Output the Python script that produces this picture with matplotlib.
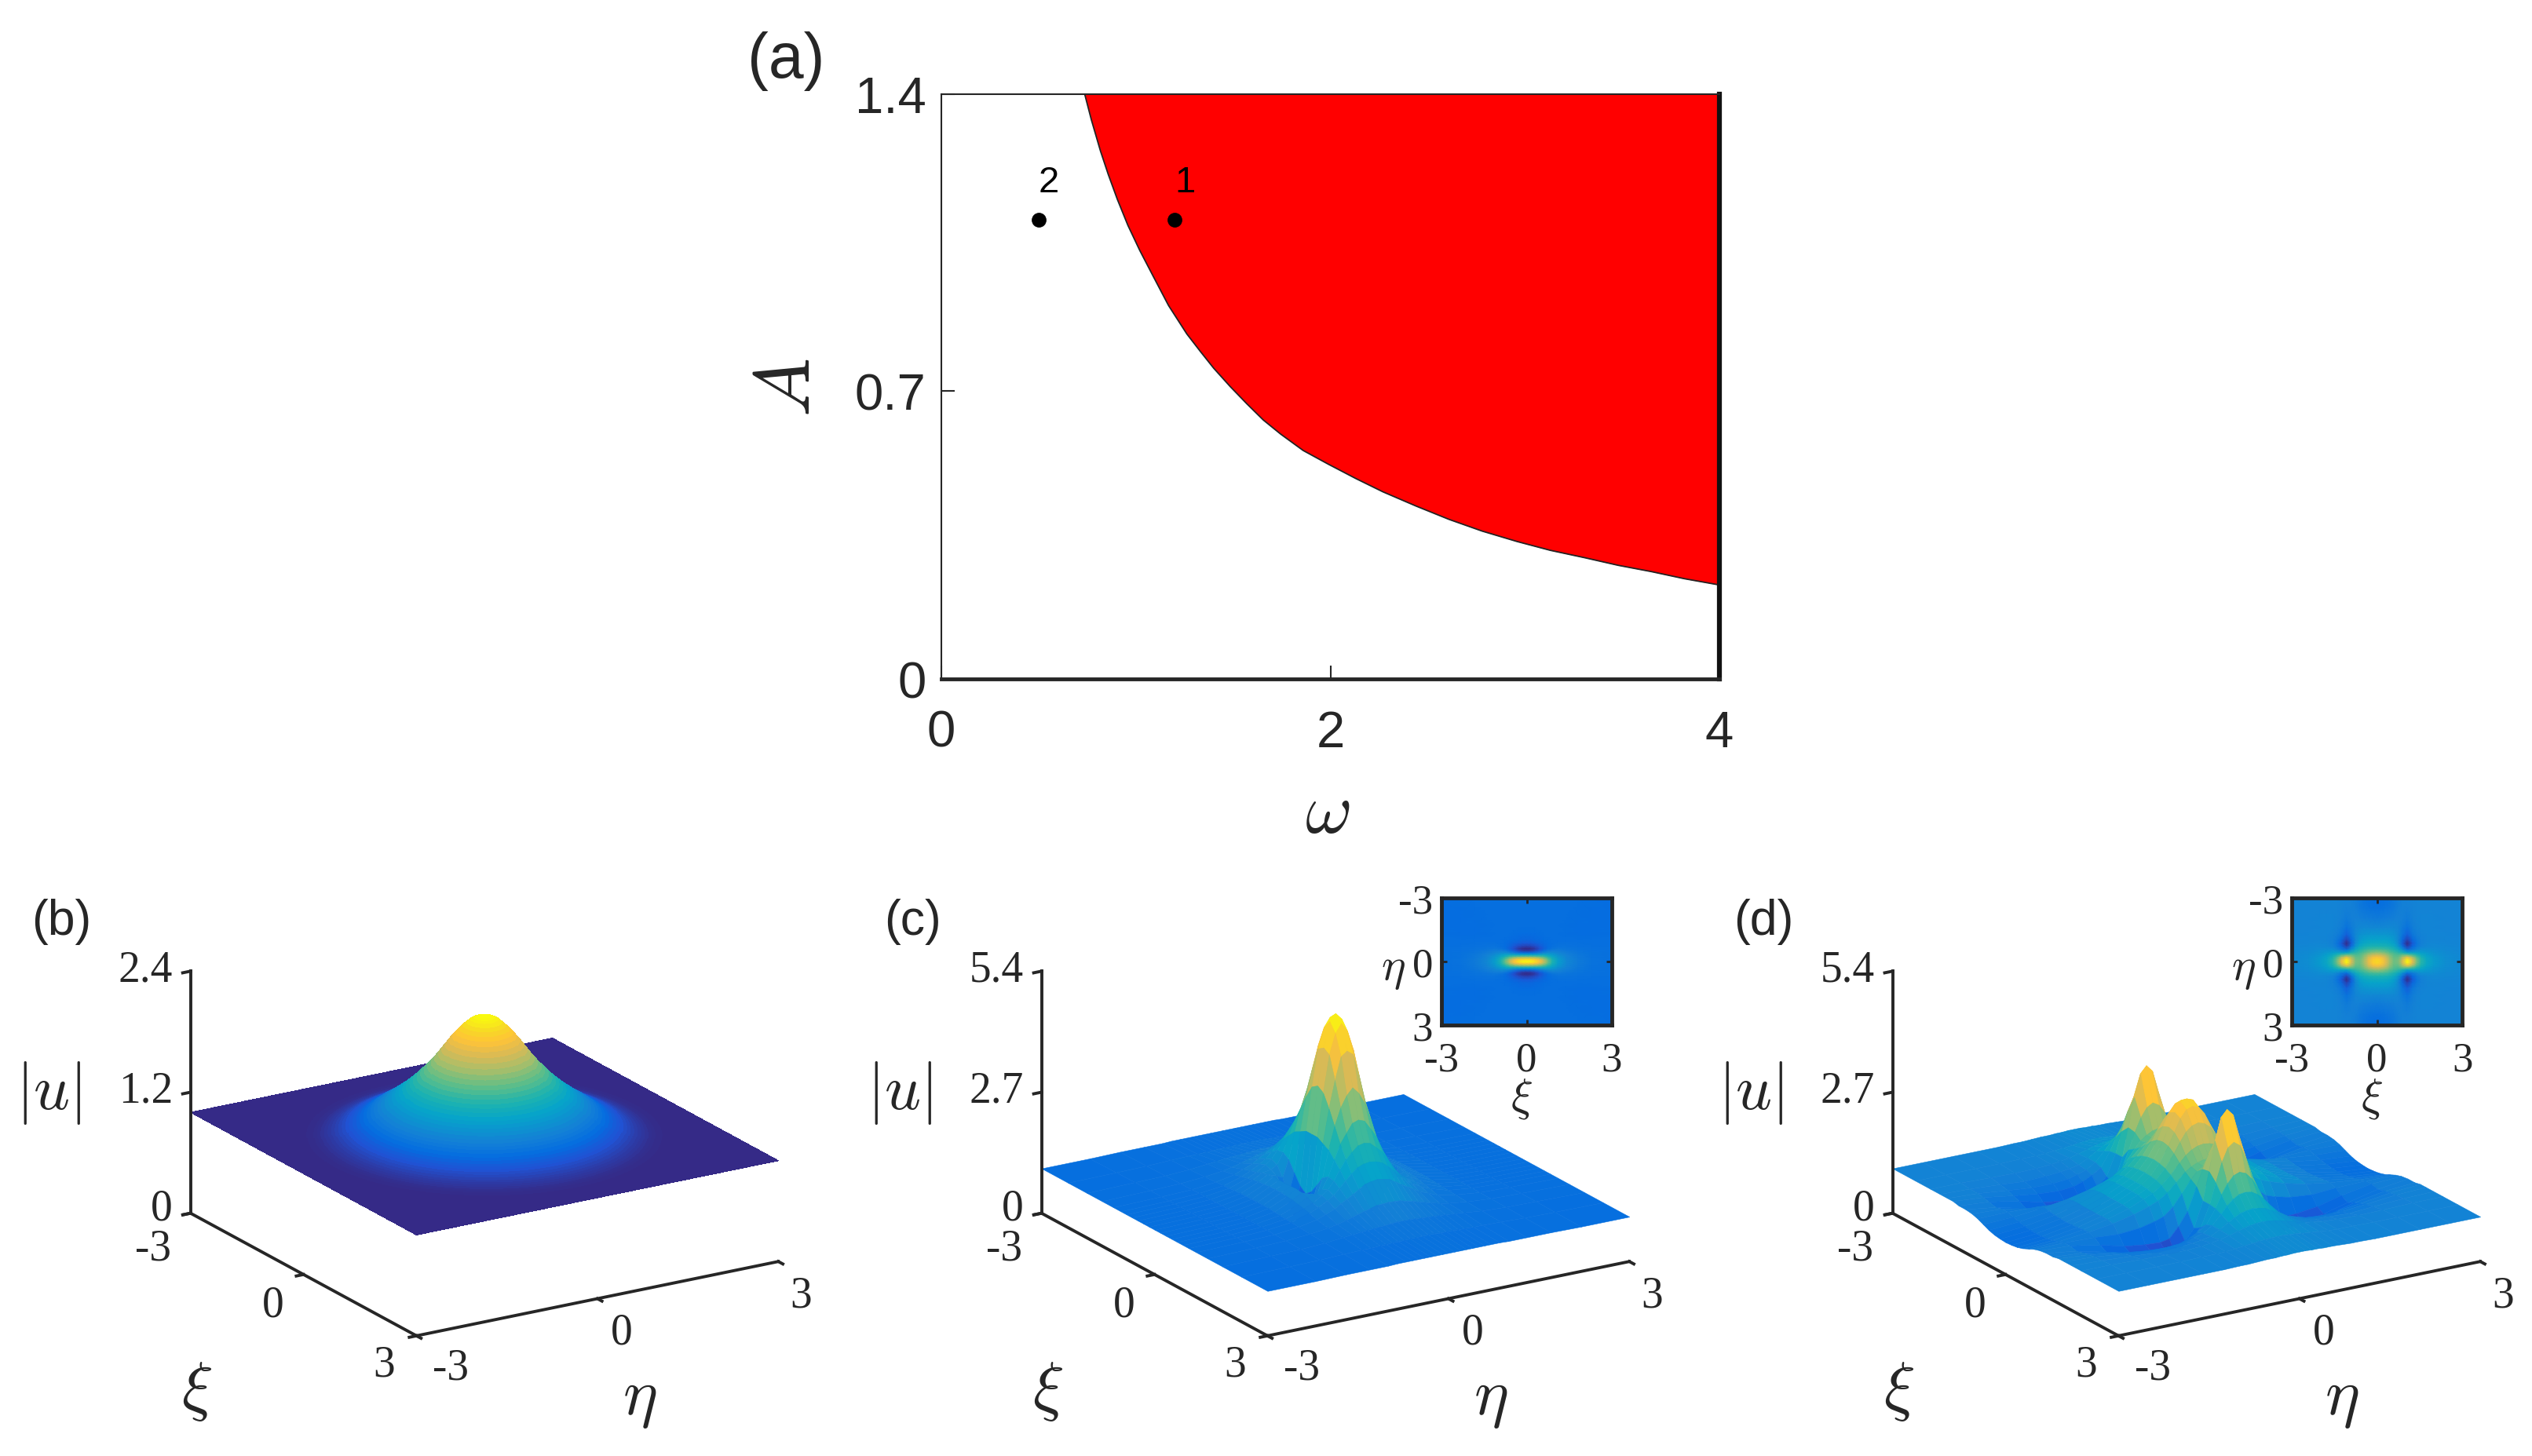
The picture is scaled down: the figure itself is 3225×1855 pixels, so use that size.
import numpy as np
import matplotlib
matplotlib.use('Agg')
from matplotlib import pyplot as plt
from matplotlib.colors import LinearSegmentedColormap, Normalize
from mpl_toolkits.mplot3d import proj3d
from mpl_toolkits.mplot3d.art3d import Poly3DCollection

# stability boundary of panel (a)
omega_edge = [0.737, 0.771, 0.818, 0.858, 0.905, 0.959, 1.02, 1.087, 1.168, 1.262, 1.33, 1.40, 1.485, 1.57, 1.655, 1.745,
              1.86, 1.99, 2.13, 2.27, 2.44, 2.61, 2.78, 2.96, 3.13, 3.31, 3.48, 3.65, 3.82, 4.0]
A_edge = [1.40, 1.339, 1.264, 1.208, 1.148, 1.086, 1.026, 0.966, 0.894, 0.826, 0.785, 0.744, 0.70, 0.659, 0.62,
          0.586, 0.547, 0.514, 0.48, 0.448, 0.414, 0.382, 0.354, 0.329, 0.308, 0.29, 0.272, 0.257, 0.24, 0.225]
omega_pts = [1.2, 0.5]
A_pts = [1.1, 1.1]
pt_names = ['1', '2']

# panel (b) is round, so one profile |u|(r)
b_r = [0, .05, .1, .15, .2, .25, .3, .35, .4, .45, .5, .55, .6, .65, .7, .75, .8, .85, .9, .95, 1, 1.05, 1.1, 1.15,
       1.2, 1.25, 1.3, 1.35, 1.4, 1.45, 1.5, 1.55, 1.6, 1.65, 1.7, 1.75, 1.8, 1.85, 1.9, 1.95, 2, 2.05, 2.1, 2.15,
       2.2, 2.25, 2.3, 2.35, 2.4, 2.5, 2.6]
b_u = [2.20, 2.197, 2.19, 2.177, 2.16, 2.13, 2.10, 2.065, 2.03, 1.99, 1.95, 1.905, 1.86, 1.815, 1.77, 1.73, 1.69,
       1.655, 1.62, 1.585, 1.55, 1.52, 1.49, 1.46, 1.43, 1.405, 1.38, 1.355, 1.33, 1.305, 1.28, 1.26, 1.24, 1.215,
       1.19, 1.17, 1.15, 1.135, 1.12, 1.105, 1.09, 1.075, 1.06, 1.05, 1.04, 1.03, 1.02, 1.015, 1.01, 1.003, 1.00]
b_floor = 1.0

# panels (c) and (d): one quadrant, rows are xi, columns are eta
c_xi = [0, .15, .3, .45, .6, .75, .9, 1.1, 1.4, 1.8, 2.3, 3]
c_eta = [0, .1, .2, .3, .4, .5, .6, .7, .85, 1, 1.3, 1.7, 2.2, 3]
# the top view (inset) of (c)
c_top_u = [
    [5.00, 4.50, 3.30, 2.10, 1.00, .35, .18, .42, .72, .86, .96, 1.00, 1.00, 1.00],
    [4.95, 4.45, 3.28, 2.10, 1.02, .40, .22, .45, .74, .87, .96, 1.00, 1.00, 1.00],
    [4.70, 4.25, 3.20, 2.10, 1.12, .55, .38, .55, .79, .90, .97, 1.00, 1.00, 1.00],
    [4.30, 3.95, 3.05, 2.12, 1.28, .78, .60, .70, .85, .93, .98, 1.00, 1.00, 1.00],
    [3.70, 3.42, 2.80, 2.12, 1.45, 1.02, .82, .85, .91, .96, .99, 1.00, 1.00, 1.00],
    [3.00, 2.85, 2.45, 2.00, 1.55, 1.20, 1.00, .96, .96, .98, .99, 1.00, 1.00, 1.00],
    [2.40, 2.32, 2.10, 1.82, 1.55, 1.28, 1.10, 1.02, .99, .99, .99, 1.00, 1.00, 1.00],
    [1.85, 1.82, 1.72, 1.58, 1.42, 1.28, 1.15, 1.07, 1.01, 1.00, .99, .99, 1.00, 1.00],
    [1.45, 1.44, 1.40, 1.34, 1.26, 1.18, 1.12, 1.07, 1.02, 1.00, .98, .98, .99, 1.00],
    [1.20, 1.20, 1.18, 1.16, 1.13, 1.10, 1.07, 1.04, 1.01, .99, .97, .97, .98, .99],
    [1.07, 1.07, 1.06, 1.06, 1.05, 1.04, 1.03, 1.02, 1.00, .99, .97, .97, .97, .98],
    [1.02, 1.02, 1.02, 1.02, 1.01, 1.01, 1.01, 1.00, 1.00, .99, .98, .97, .97, .97],
]
# the 3D sheet of (c), read from its silhouette
c_u = [
    [5.00, 4.85, 4.29, 3.47, 2.42, 1.12, .43, .88, 1.45, 1.35, 1.15, 1.05, 1.02, 1.00],
    [4.85, 4.65, 4.20, 3.38, 2.42, 1.23, .59, .96, 1.45, 1.35, 1.15, 1.05, 1.02, 1.00],
    [4.30, 4.20, 3.70, 3.10, 2.34, 1.45, .96, 1.18, 1.46, 1.33, 1.15, 1.05, 1.02, 1.00],
    [3.55, 3.40, 3.15, 2.77, 2.27, 1.68, 1.30, 1.37, 1.44, 1.32, 1.14, 1.05, 1.02, 1.00],
    [2.90, 2.85, 2.65, 2.44, 2.12, 1.77, 1.52, 1.44, 1.41, 1.29, 1.13, 1.05, 1.02, 1.00],
    [2.45, 2.42, 2.30, 2.17, 1.97, 1.75, 1.58, 1.48, 1.35, 1.26, 1.12, 1.05, 1.02, 1.00],
    [2.10, 2.08, 2.03, 1.92, 1.79, 1.65, 1.52, 1.43, 1.32, 1.23, 1.11, 1.05, 1.02, 1.00],
    [1.80, 1.78, 1.75, 1.67, 1.58, 1.50, 1.43, 1.34, 1.26, 1.18, 1.10, 1.04, 1.02, 1.00],
    [1.43, 1.42, 1.41, 1.37, 1.34, 1.30, 1.26, 1.22, 1.17, 1.13, 1.08, 1.04, 1.02, 1.00],
    [1.20, 1.20, 1.19, 1.18, 1.17, 1.16, 1.15, 1.14, 1.12, 1.10, 1.06, 1.03, 1.02, 1.00],
    [1.08, 1.08, 1.08, 1.07, 1.07, 1.07, 1.06, 1.06, 1.05, 1.05, 1.04, 1.02, 1.01, 1.00],
    [1.02, 1.02, 1.02, 1.02, 1.02, 1.02, 1.02, 1.02, 1.02, 1.01, 1.01, 1.01, 1.00, 1.00],
]
c_limits = (0.18, 5.0)

d_xi = [0, .15, .3, .45, .6, .75, .9, 1.07, 1.25, 1.4, 1.55, 1.75, 2, 2.4, 3]
d_eta = [0, .1, .2, .3, .4, .55, .7, .85, 1, 1.25, 1.6, 2, 2.5, 3]
# the top view (inset) of (d)
d_top_u = [
    [3.10, 3.05, 2.85, 2.55, 2.25, 1.90, 1.65, 1.48, 1.38, 1.22, 1.05, .90, .78, .72],
    [3.00, 2.95, 2.78, 2.50, 2.22, 1.88, 1.64, 1.48, 1.38, 1.22, 1.05, .91, .79, .73],
    [2.70, 2.66, 2.55, 2.35, 2.12, 1.84, 1.62, 1.47, 1.37, 1.22, 1.06, .92, .81, .75],
    [2.30, 2.28, 2.22, 2.12, 1.98, 1.76, 1.57, 1.43, 1.34, 1.20, 1.06, .94, .84, .79],
    [2.05, 2.04, 2.00, 1.94, 1.85, 1.66, 1.47, 1.33, 1.25, 1.16, 1.05, .96, .88, .85],
    [2.10, 2.07, 2.00, 1.90, 1.75, 1.48, 1.22, 1.08, 1.05, 1.04, 1.01, .97, .93, .91],
    [2.60, 2.52, 2.32, 2.02, 1.66, 1.15, .80, .62, .68, .82, .90, .95, .96, .95],
    [3.35, 3.20, 2.70, 2.05, 1.42, .78, .40, .22, .38, .62, .80, .90, .95, .97],
    [2.70, 2.60, 2.30, 1.88, 1.42, .90, .70, .58, .68, .84, .92, .96, .98, .99],
    [2.10, 2.05, 1.90, 1.68, 1.40, 1.05, .88, .83, .86, .94, .98, 1.00, 1.00, 1.00],
    [1.72, 1.70, 1.62, 1.50, 1.34, 1.13, 1.00, .96, .96, .98, 1.01, 1.01, 1.00, 1.00],
    [1.45, 1.43, 1.40, 1.33, 1.25, 1.13, 1.05, 1.02, 1.01, 1.01, 1.01, 1.01, 1.00, 1.00],
    [1.27, 1.26, 1.24, 1.21, 1.17, 1.11, 1.06, 1.03, 1.02, 1.01, 1.01, 1.01, 1.00, 1.00],
    [1.12, 1.12, 1.11, 1.10, 1.08, 1.06, 1.04, 1.02, 1.01, 1.01, 1.00, 1.00, 1.00, 1.00],
    [1.05, 1.05, 1.04, 1.04, 1.03, 1.03, 1.02, 1.01, 1.01, 1.00, 1.00, 1.00, 1.00, 1.00],
]
# the 3D sheet of (d), valleys are wider there
d_u = [
    [3.10, 3.05, 2.85, 2.55, 2.25, 1.90, 1.65, 1.48, 1.38, 1.22, 1.05, .90, .78, .72],
    [3.00, 2.95, 2.78, 2.50, 2.22, 1.88, 1.64, 1.48, 1.38, 1.22, 1.05, .91, .79, .73],
    [2.70, 2.66, 2.55, 2.35, 2.12, 1.84, 1.62, 1.47, 1.37, 1.22, 1.06, .92, .81, .75],
    [2.30, 2.28, 2.22, 2.12, 1.98, 1.76, 1.57, 1.43, 1.34, 1.20, 1.06, .94, .84, .79],
    [2.05, 2.04, 2.00, 1.94, 1.85, 1.66, 1.47, 1.33, 1.25, 1.14, 1.03, .95, .88, .85],
    [2.10, 2.07, 2.00, 1.90, 1.75, 1.48, 1.22, 1.05, .98, .90, .86, .90, .92, .91],
    [2.60, 2.52, 2.32, 2.02, 1.66, 1.15, .85, .62, .58, .60, .66, .80, .92, .95],
    [3.35, 3.20, 2.70, 2.05, 1.42, .85, .60, .30, .42, .50, .58, .72, .88, .97],
    [2.70, 2.60, 2.30, 1.88, 1.42, .95, .75, .62, .58, .60, .66, .80, .92, .97],
    [2.10, 2.05, 1.90, 1.68, 1.40, 1.08, .95, .85, .78, .75, .78, .85, .95, 1.00],
    [1.72, 1.70, 1.62, 1.50, 1.34, 1.13, 1.00, .94, .88, .85, .85, .90, .97, 1.00],
    [1.45, 1.43, 1.40, 1.33, 1.25, 1.13, 1.02, .98, .95, .92, .90, .94, .98, 1.00],
    [1.27, 1.26, 1.24, 1.21, 1.17, 1.11, 1.06, 1.03, 1.00, .98, .97, .98, 1.00, 1.00],
    [1.12, 1.12, 1.11, 1.10, 1.08, 1.06, 1.04, 1.02, 1.01, 1.01, 1.00, 1.00, 1.00, 1.00],
    [1.05, 1.05, 1.04, 1.04, 1.03, 1.03, 1.02, 1.01, 1.01, 1.00, 1.00, 1.00, 1.00, 1.00],
]
d_limits = (0.22, 3.35)

# parula, sampled
parula_pos = [0, 6, 10, 15, 23, 29, 35, 41, 48, 54, 58, 63]
parula_rgb = [(.2081, .1663, .5292), (.1253, .3242, .8303), (.0165, .4266, .8786), (.0779, .5040, .8384),
              (.0231, .6418, .7913), (.1133, .7015, .6859), (.3482, .7424, .5473), (.6099, .7473, .4337),
              (.8507, .7299, .3360), (.9990, .7653, .2164), (.9697, .8481, .1475), (.9763, .9831, .0538)]
parula = LinearSegmentedColormap.from_list('parula', [(p / 63, c) for p, c in zip(parula_pos, parula_rgb)])

W, H = 3225, 1856
K = W / 1568  # I measured everything on a 1568 wide view of the picture
INK = '#262626'
SANS = 'Liberation Sans'
SERIF = 'Liberation Serif'

plt.rcParams['mathtext.fontset'] = 'cm'
fig = plt.figure(figsize=(W / 100, H / 100), dpi=100, facecolor='white')


def fig_text(x, y, s, **kw):
    fig.text(x * K / W, 1 - y * K / H, s, ha='center', va='center', color=INK, **kw)


def mirror_full(xi, eta, table):
    xi = np.array(xi, dtype=float)
    eta = np.array(eta, dtype=float)
    table = np.array(table, dtype=float)
    top = np.vstack([table[:0:-1], table])
    return np.concatenate([-xi[:0:-1], xi]), np.concatenate([-eta[:0:-1], eta]), np.hstack([top[:, :0:-1], top])


def corner_px(ax, x, y, z):
    xs, ys, _ = proj3d.proj_transform(x, y, z, ax.get_proj())
    return ax.transData.transform((xs, ys))


def new_box(left, span, origin_y, zmax):
    # 3D box with the picture's view, moved so its corners land on the measured spot
    ax = fig.add_axes([0.1, 0.1, 1000 / W, 1000 / H], projection='3d')
    ax.set_proj_type('ortho')
    ax.view_init(elev=19.5, azim=-121.6)
    ax.set_box_aspect((263, 267, 159))
    ax.set_xlim(-3, 3, view_margin=0)
    ax.set_ylim(3, -3, view_margin=0)
    ax.set_zlim(0, zmax, view_margin=0)
    ax.set_axis_off()
    ax.patch.set_visible(False)
    ax.computed_zorder = False
    a = corner_px(ax, -3, -3, 0)
    b = corner_px(ax, 3, 3, 0)
    size = 1000 * span * K / (b[0] - a[0])
    fx = (a[0] - 0.1 * W) / 1000
    fy = (a[1] - 0.1 * H) / 1000
    x0 = left * K - fx * size
    y0 = H - origin_y * K - fy * size
    ax.set_position([x0 / W, y0 / H, size / W, size / H])
    return ax


def draw_sheet(ax, xi, eta, u, limits):
    # painter's order by hand: far row first, mplot3d's own sort breaks on the tall thin peak
    norm = Normalize(*limits)
    order = 1
    for i in range(len(xi) - 1):
        for j in range(len(eta) - 2, -1, -1):
            verts = [(eta[j], xi[i], u[i, j]), (eta[j + 1], xi[i], u[i, j + 1]),
                     (eta[j + 1], xi[i + 1], u[i + 1, j + 1]), (eta[j], xi[i + 1], u[i + 1, j])]
            col = parula(norm(u[i:i + 2, j:j + 2].mean()))
            ax.add_collection3d(Poly3DCollection([verts], facecolors=col, edgecolors=col, linewidths=0.4,
                                                 zorder=order), autolim=False)
            order += 1


def dress_box(ax, zticks, letter, dx):
    lw = 2.8
    top = 100000
    ax.plot([-3, -3], [-3, -3], [0, zticks[-1]], color=INK, lw=lw, zorder=top)
    ax.plot([-3, -3], [-3, 3], [0, 0], color=INK, lw=lw, zorder=top)
    ax.plot([-3, 3], [3, 3], [0, 0], color=INK, lw=lw, zorder=top)
    for z in zticks:
        ax.plot([-3, -3.13], [-3, -3], [z, z], color=INK, lw=lw, zorder=top)
        p = corner_px(ax, -3, -3, z)
        fig.text(p[0] / W - 11 * K / W, p[1] / H + (3 if z == 0 else 1) * K / H, '%g' % z, ha='right', va='center',
                 family=SERIF, size=40, color=INK)
    for t, off in zip([-3, 0, 3], [(-23, 22), (-19, 19), (-20, 18)]):
        ax.plot([-3, -3.12], [t, t], [0, 0], color=INK, lw=lw, zorder=top)
        p = corner_px(ax, -3, t, 0)
        fig.text((p[0] + off[0] * K) / W, (p[1] - off[1] * K) / H, '%d' % t, ha='center', va='center',
                 family=SERIF, size=40, color=INK)
    for t, off in zip([-3, 0, 3], [(21, 20), (15, 21), (14, 21)]):
        ax.plot([t, t], [3, 3.12], [0, 0], color=INK, lw=lw, zorder=top)
        p = corner_px(ax, t, 3, 0)
        fig.text((p[0] + off[0] * K) / W, (p[1] - off[1] * K) / H, '%d' % t, ha='center', va='center',
                 family=SERIF, size=40, color=INK)
    fig_text(38 + dx, 571, letter, family=SANS, size=45)
    fig_text(30 + dx, 677, r'$|u|$', size=58)
    fig_text(122 + dx, 862, r'$\xi$', size=60)
    fig_text(396 + dx, 866, r'$\eta$', size=60)


def inset(x0, xi, eta, table, limits):
    ax = fig.add_axes([x0 / W, 1 - 1307 / H, 217 / W, 162 / H], zorder=10)
    ax.pcolormesh(xi, eta, table.T, cmap=parula, vmin=limits[0], vmax=limits[1], shading='gouraud')
    ax.set_xlim(-3, 3)
    ax.set_ylim(3, -3)
    ax.set_xticks([-3, 0, 3])
    ax.set_xticklabels(['-3', '0', '3'])
    ax.set_yticks([-3, 0, 3])
    ax.set_yticklabels(['-3', '0', '3'])
    ax.tick_params(direction='in', length=5, width=2, top=True, right=True, color=INK, labelcolor=INK, labelsize=38)
    ax.tick_params(axis='x', pad=15)
    ax.tick_params(axis='y', pad=8)
    for lab in ax.get_xticklabels() + ax.get_yticklabels():
        lab.set_family(SERIF)
    for s in ax.spines.values():
        s.set_linewidth(3.5)
        s.set_color(INK)
    ax.text(-62 / 217, 0.45, r'$\eta$', transform=ax.transAxes, ha='center', va='center', size=42, color=INK)
    ax.text(0.47, -93 / 162, r'$\xi$', transform=ax.transAxes, ha='center', va='center', size=42, color=INK)


# panel (a)
ax_a = fig.add_axes([1199 / W, 1 - 866 / H, 991 / W, 745 / H])
ax_a.fill_between(omega_edge, A_edge, 1.4, color='#ff0000', lw=0)
ax_a.plot(omega_edge, A_edge, color='#222222', lw=1.3)
ax_a.plot(omega_pts, A_pts, 'o', color='black', ms=12.5)
for w, a, name in zip(omega_pts, A_pts, pt_names):
    ax_a.annotate(name, (w, a), xytext=(9.5, 34), textcoords='offset points', ha='center', va='center',
                  family=SANS, size=34, color='black')
ax_a.set_xlim(0, 4)
ax_a.set_ylim(0, 1.4)
ax_a.set_xticks([0, 2, 4])
ax_a.set_yticks([0, 0.69, 1.4])  # the middle tick sits a little low in the picture
ax_a.set_yticklabels(['0', '0.7', '1.4'])
ax_a.tick_params(direction='in', length=12, width=1.5, color=INK, labelcolor=INK, labelsize=47)
ax_a.tick_params(axis='x', pad=28)
ax_a.tick_params(axis='y', pad=14)
for lab in ax_a.get_xticklabels() + ax_a.get_yticklabels():
    lab.set_family(SANS)
ax_a.spines['left'].set_linewidth(1.5)
ax_a.spines['top'].set_linewidth(1.5)
ax_a.spines['bottom'].set_linewidth(3.5)
ax_a.spines['right'].set_linewidth(4.5)
for s in ['left', 'top', 'bottom']:
    ax_a.spines[s].set_color(INK)
ax_a.spines['right'].set_color('#111111')
fig_text(487, 38, '(a)', family=SANS, size=58)
fig_text(822, 503, r'$\omega$', size=66)
fig_text(488, 240, r'$A$', size=72, rotation=90)

# panel (b): flat sheet, then the round bump on top of it
ax_b = new_box(118, 364, 752, 2.4)
sheet_x = np.array([[-3, 3], [-3, 3]], dtype=float)
sheet_y = np.array([[-3, -3], [3, 3]], dtype=float)
ax_b.plot_surface(sheet_x, sheet_y, np.full((2, 2), b_floor), color=parula(0.0), shade=False, linewidth=0,
                  antialiased=False, zorder=1)
theta = np.linspace(0, 2 * np.pi, 181)
ring, ang = np.meshgrid(np.array(b_r), theta)
ax_b.plot_surface(ring * np.cos(ang), ring * np.sin(ang), np.tile(b_u, (len(theta), 1)), cmap=parula,
                  vmin=b_floor, vmax=max(b_u), rstride=1, cstride=1, linewidth=0, antialiased=False, zorder=2)
dress_box(ax_b, [0, 1.2, 2.4], '(b)', 0)

# panel (c)
ax_c = new_box(645, 364, 752, 5.4)
xi_c, eta_c, u_c = mirror_full(c_xi, c_eta, c_u)
draw_sheet(ax_c, xi_c, eta_c, u_c, c_limits)
dress_box(ax_c, [0, 2.7, 5.4], '(c)', 527)
xi_top, eta_top, u_top = mirror_full(c_xi, c_eta, c_top_u)
inset(1836, xi_top, eta_top, u_top, c_limits)

# panel (d)
ax_d = new_box(1172, 364, 752, 5.4)
xi_d, eta_d, u_d = mirror_full(d_xi, d_eta, d_u)
draw_sheet(ax_d, xi_d, eta_d, u_d, d_limits)
dress_box(ax_d, [0, 2.7, 5.4], '(d)', 1054)
xi_top, eta_top, u_top = mirror_full(d_xi, d_eta, d_top_u)
inset(2919, xi_top, eta_top, u_top, d_limits)

fig.savefig('out.png', dpi=100)
